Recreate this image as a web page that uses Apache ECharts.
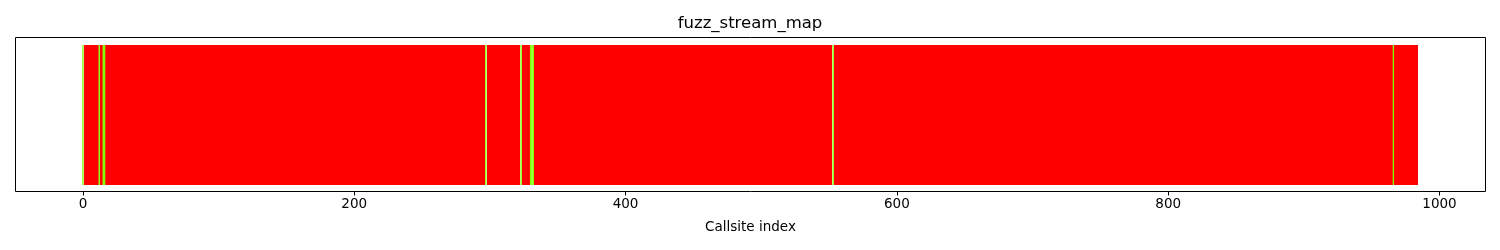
<!DOCTYPE html>
<html>
<head>
<meta charset="utf-8">
<script src="https://cdn.jsdelivr.net/npm/echarts@6/dist/echarts.min.js"></script>
<style>
html,body{margin:0;padding:0;background:#fff;}
#chart{width:1500px;height:250px;}
</style>
</head>
<body>
<div id="chart"></div>
<script>
// ---- data ----
const title = 'fuzz_stream_map';
const xLabel = 'Callsite index';
const callsiteCount = 985;                 // callsites 0 .. 984
const hitCallsites = [0, 12, 15, 16, 297, 323, 330, 331, 332, 553, 966];  // green (covered)
const xTicks = [0, 200, 400, 600, 800, 1000];
const xRange = [-49.7, 1033.9];
const hitColor = '#7fff00';
const missColor = '#ff0000';

// ---- build ----
const hitSet = new Set(hitCallsites);
const missData = [], hitData = [];
for (let i = 0; i < callsiteCount; i++) {
  if (hitSet.has(i)) hitData.push([i, 1]); else missData.push([i, 1]);
}

function makeRender(snap) {
  return function (params, api) {
    const x = api.value(0), v = api.value(1);
    const p0 = api.coord([x - 0.5, v]);
    const p1 = api.coord([x + 0.5, 0]);
    let x0 = p0[0], x1 = p1[0];
    let y0 = Math.round(p0[1]), y1 = Math.round(p1[1]);
    if (snap) { x0 = Math.round(x0); x1 = Math.round(x1); }
    return {
      type: 'rect',
      shape: { x: x0, y: y0, width: x1 - x0, height: y1 - y0 },
      style: { fill: api.visual('color') }
    };
  };
}

const chart = echarts.init(document.getElementById('chart'), null, { renderer: 'canvas' });
chart.setOption({
  animation: false,
  backgroundColor: '#ffffff',
  title: {
    text: title, left: 'center', top: 10,
    textStyle: { fontFamily: 'DejaVu Sans', fontSize: 16.5, fontWeight: 'normal', color: '#000' }
  },
  grid: { left: 15.5, right: 14.5, top: 37.5, bottom: 58.5, show: true, borderColor: '#000', borderWidth: 1, backgroundColor: 'transparent' },
  xAxis: {
    type: 'value', min: xRange[0], max: xRange[1],
    name: xLabel, nameLocation: 'middle', nameGap: 29,
    nameTextStyle: { fontFamily: 'DejaVu Sans', fontSize: 13.5, color: '#000' },
    axisLine: { show: false, onZero: false },
    axisTick: { show: true, length: 4, lineStyle: { color: '#000' }, customValues: xTicks },
    axisLabel: { fontFamily: 'DejaVu Sans', fontSize: 13.5, color: '#000', margin: 6, customValues: xTicks,
                 formatter: function (v) { return String(v); } },
    splitLine: { show: false }
  },
  yAxis: {
    type: 'value', min: -0.05, max: 1.05,
    axisLine: { show: false }, axisTick: { show: false }, axisLabel: { show: false }, splitLine: { show: false }
  },
  series: [
    { type: 'custom', renderItem: makeRender(true), data: missData, itemStyle: { color: missColor }, encode: { x: 0, y: 1 }, z: 2 },
    { type: 'custom', renderItem: makeRender(false), data: hitData, itemStyle: { color: hitColor }, encode: { x: 0, y: 1 }, z: 3 }
  ]
});
</script>
</body>
</html>
